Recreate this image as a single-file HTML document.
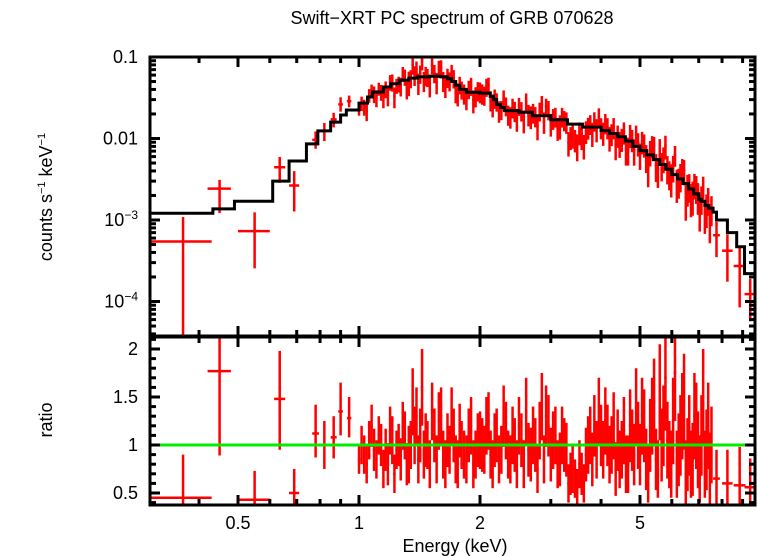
<!DOCTYPE html>
<html><head><meta charset="utf-8"><style>
body{margin:0;background:#fff;}
svg{display:block;font-family:"Liberation Sans",sans-serif;}
</style></head><body>
<svg id="chart" width="758" height="556" viewBox="0 0 758 556" xmlns="http://www.w3.org/2000/svg">
<defs>
<clipPath id="cTop"><rect x="150" y="57" width="605" height="279"/></clipPath>
<clipPath id="cBot"><rect x="150" y="337" width="605" height="168"/></clipPath>
</defs>
<text x="452" y="24" font-size="18" text-anchor="middle">Swift−XRT PC spectrum of GRB 070628</text>
<text transform="translate(52,197) rotate(-90)" font-size="18" text-anchor="middle">counts s<tspan font-size="11" dy="-7">−1</tspan><tspan dy="7"> keV</tspan><tspan font-size="11" dy="-7">−1</tspan></text>
<text transform="translate(52,420) rotate(-90)" font-size="18" text-anchor="middle">ratio</text>
<text x="455" y="552" font-size="18" text-anchor="middle">Energy (keV)</text>
<g id="gTop" clip-path="url(#cTop)"></g>
<g id="gBot" clip-path="url(#cBot)"></g>
<g id="gAxes"></g>
</svg>
<script>
// Model step bins (left edges) and values (counts/s/keV)
const modelEdges=[0.30,0.433,0.49,0.61,0.67,0.74,0.79,0.85,0.90,0.93,1.00,1.05,1.08,1.15,1.20,1.26,1.33,1.40,1.50,1.60,1.66,1.70,1.74,1.78,1.85,2.00,2.12,2.16,2.20,2.25,2.30,2.50,2.70,3.00,3.30,3.60,4.00,4.20,4.40,4.60,4.80,5.00,5.20,5.40,5.60,5.80,6.00,6.20,6.40,6.60,6.80,7.00,7.10,7.25,7.40,7.60,7.75,8.25,8.70,9.10,9.70];
const modelVals=[1.21e-3,1.37e-3,1.70e-3,3.0e-3,5.3e-3,8.6e-3,0.0124,0.0159,0.0194,0.0224,0.0272,0.0323,0.0372,0.0428,0.047,0.052,0.055,0.057,0.058,0.057,0.054,0.050,0.045,0.040,0.037,0.036,0.033,0.030,0.026,0.024,0.022,0.021,0.019,0.017,0.015,0.0138,0.0125,0.0115,0.0105,0.0093,0.008,0.0071,0.0063,0.0055,0.0048,0.0042,0.0036,0.0032,0.0028,0.0024,0.0021,0.0018,0.0017,0.0015,0.0014,0.00125,0.0010,0.0007,0.00047,0.00022];
// Sparse data points: energy, half-width, ratio, ratio error low/high
const sparseE=[0.365,0.45,0.55,0.635,0.69,0.78,0.82,0.865,0.90,0.945,7.75,8.25,8.85,9.4];
const sparseW=[0.065,0.03,0.05,0.02,0.02,0.015,0.015,0.015,0.012,0.012,0.15,0.25,0.3,0.3];
const sparseR=[0.45,1.77,0.43,1.48,0.50,1.12,1.00,1.08,1.35,1.28,0.65,0.60,0.58,0.56];
const sparseLo=[0.45,0.88,0.28,0.53,0.26,0.25,0.25,0.22,0.25,0.2,0.3,0.35,0.4,0.3];
const sparseHi=[0.45,0.5,0.30,0.50,0.25,0.3,0.25,0.22,0.3,0.22,0.3,0.35,0.4,0.3];
// Dense data: energy, ratio, ratio error
const denseE=[1.00,1.03,1.06,1.09,1.12,1.15,1.18,1.21,1.24,1.27,1.30,1.33,1.36,1.39,1.42,1.45,1.48,1.52,1.56,1.60,1.64,1.68,1.72,1.76,1.80,1.85,1.90,1.95,2.00,2.05,2.10,2.15,2.20,2.26,2.32,2.38,2.44,2.50,2.57,2.64,2.71,2.78,2.85,2.92,3.00,3.08,3.16,3.24,3.32,3.40,3.49,3.58,3.67,3.76,3.85,3.95,4.05,4.15,4.25,4.35,4.45,4.56,4.67,4.78,4.89,5.00,5.12,5.24,5.36,5.48,5.60,5.72,5.85,5.98,6.11,6.24,6.37,6.50,6.63,6.76,6.90,7.04,7.18,7.32,7.46];
const denseR=[0.85,0.9,1.05,0.95,1.1,0.75,0.8,1.05,0.95,0.85,1.1,0.9,1.45,1.3,1.1,0.9,1.0,1.35,0.85,1.3,0.8,0.95,1.1,0.8,1.0,0.85,1.2,0.9,1.05,0.95,1.25,0.8,1.1,0.95,1.15,0.85,1.0,1.2,0.8,0.95,1.1,0.75,1.4,1.3,0.9,1.1,0.85,1.0,0.6,0.75,0.55,0.7,0.9,1.1,1.2,1.35,0.95,1.1,1.0,0.75,0.85,1.15,0.8,1.05,1.4,0.9,1.2,0.7,1.3,0.85,1.55,1.2,1.05,0.8,1.75,0.95,1.3,0.7,1.1,0.85,1.2,0.75,1.5,0.95,0.75];
const denseErr=[0.15,0.2,0.2,0.22,0.2,0.2,0.22,0.25,0.2,0.22,0.25,0.3,0.35,0.3,0.28,0.25,0.25,0.3,0.25,0.3,0.25,0.25,0.28,0.25,0.25,0.25,0.3,0.25,0.3,0.25,0.3,0.25,0.28,0.25,0.3,0.25,0.28,0.3,0.25,0.28,0.3,0.25,0.35,0.32,0.28,0.3,0.28,0.28,0.2,0.25,0.2,0.22,0.28,0.3,0.32,0.35,0.3,0.32,0.3,0.28,0.3,0.35,0.3,0.32,0.4,0.32,0.38,0.3,0.4,0.32,0.5,0.42,0.4,0.35,0.5,0.38,0.45,0.35,0.42,0.38,0.45,0.35,0.5,0.42,0.38];
const denseE2=[1.015,1.045,1.075,1.105,1.135,1.165,1.195,1.225,1.255,1.285,1.315,1.345,1.375,1.405,1.435,1.465,1.50,1.54,1.58,1.62,1.66,1.70,1.74,1.78,1.825,1.875,1.925,1.975,2.025,2.075,2.125,2.175,2.23,2.29,2.35,2.41,2.47,2.535,2.605,2.675,2.745,2.815,2.885,2.96,3.04,3.12,3.20,3.28,3.36,3.445,3.535,3.625,3.715,3.805,3.90,4.00,4.10,4.20,4.30,4.40,4.505,4.615,4.725,4.835,4.945,5.06,5.18,5.30,5.42,5.54,5.66,5.785,5.915,6.045,6.175,6.305,6.435,6.565,6.695,6.83,6.97,7.11,7.25,7.39,7.53];
const denseR2=[1.0,0.8,1.2,0.85,1.0,0.95,1.15,0.7,1.0,1.2,0.8,1.0,1.1,0.85,1.6,1.05,0.8,1.1,1.25,0.9,1.05,1.3,0.85,1.15,0.9,1.1,0.8,1.05,1.0,1.2,0.9,1.05,0.85,1.3,0.9,1.1,0.8,1.05,1.35,0.9,1.0,1.15,0.85,1.2,1.05,0.8,1.1,0.95,0.7,0.65,0.8,0.6,1.0,0.85,0.95,1.1,1.25,0.9,1.2,1.05,0.95,0.8,1.2,0.9,1.1,1.3,0.85,1.1,1.45,0.75,1.0,1.7,0.9,1.25,0.8,1.1,1.45,0.9,0.8,1.3,0.95,1.1,0.8,1.2,1.0];
const denseErr2=[0.2,0.2,0.22,0.2,0.22,0.22,0.25,0.2,0.22,0.25,0.22,0.25,0.3,0.25,0.4,0.28,0.25,0.28,0.3,0.25,0.28,0.3,0.25,0.28,0.25,0.28,0.25,0.28,0.28,0.3,0.25,0.28,0.25,0.32,0.25,0.3,0.25,0.28,0.35,0.28,0.28,0.3,0.25,0.32,0.3,0.25,0.3,0.28,0.22,0.2,0.25,0.2,0.3,0.28,0.3,0.32,0.35,0.3,0.35,0.32,0.3,0.3,0.38,0.32,0.35,0.4,0.32,0.38,0.45,0.3,0.38,0.55,0.35,0.45,0.35,0.42,0.5,0.38,0.35,0.45,0.4,0.42,0.35,0.45,0.4];
const xTickMajor=[0.5,1,2,5];
const xTickMinor=[0.3,0.4,0.6,0.7,0.8,0.9,3,4,6,7,8,9];
const yTopMajor=[0.1,0.01,0.001,0.0001];
const yTopLabels=["0.1","0.01","10|−3","10|−4"];
const yBotMajor=[0.5,1,1.5,2];
const yBotLabels=["0.5","1","1.5","2"];

const NS="http://www.w3.org/2000/svg";
const X0=150,X1=755,YT0=57,YT1=336,YB0=337,YB1=505;
function xs(e){return 359+402*Math.log10(e);}
function ysT(c){return 57-81.5*(Math.log10(c)+1);}
function ysB(r){return 445-96*(r-1);}
function modelAt(e){let v=modelVals[0];for(let i=0;i<modelVals.length;i++){if(e>=modelEdges[i])v=modelVals[i];}return v;}
function line(g,x1,y1,x2,y2,col,w,name){const l=document.createElementNS(NS,'line');l.setAttribute('x1',x1);l.setAttribute('y1',y1);l.setAttribute('x2',x2);l.setAttribute('y2',y2);l.setAttribute('stroke',col);l.setAttribute('stroke-width',w);


g.appendChild(l);return l;}
const gT=document.getElementById('gTop'),gB=document.getElementById('gBot'),gA=document.getElementById('gAxes');
const RED='#ff0000';
function drawPoint(e,w,r,lo,hi){
  const m=modelAt(e);
  const xa=xs(e-w),xb=xs(e+w),xc=xs(e);
  const c=r*m;const cl=Math.max((r-lo)*m,1e-6),ch=(r+hi)*m;
  line(gT,xa,ysT(c),xb,ysT(c),RED,2.5,'data-point-xerr');
  line(gT,xc,ysT(cl),xc,ysT(ch),RED,2.5,'data-point-yerr');
  line(gB,xa,ysB(r),xb,ysB(r),RED,2.5,'ratio-point-xerr');
  line(gB,xc,ysB(r-lo),xc,ysB(r+hi),RED,2.5,'ratio-point-yerr');
}
for(let i=0;i<sparseE.length;i++)drawPoint(sparseE[i],sparseW[i],sparseR[i],sparseLo[i],sparseHi[i]);
for(let i=0;i<denseE.length;i++){drawPoint(denseE[i],denseE[i]*0.007,denseR[i],denseErr[i],denseErr[i]);}
for(let i=0;i<denseE2.length;i++){drawPoint(denseE2[i],denseE2[i]*0.007,denseR2[i],denseErr2[i],denseErr2[i]);}
let d='';for(let i=0;i<modelVals.length;i++){const y=ysT(modelVals[i]);d+=(i?'L':'M')+xs(modelEdges[i])+','+y+'L'+xs(modelEdges[i+1])+','+y;}
const p=document.createElementNS(NS,'path');p.setAttribute('d',d);p.setAttribute('fill','none');p.setAttribute('stroke','#000');p.setAttribute('stroke-width',3);


gT.appendChild(p);
line(gB,X0,ysB(1),X1,ysB(1),'#00ee00',3,'unity-line');
function frame(y0,y1,name){const r=document.createElementNS(NS,'rect');r.setAttribute('x',X0);r.setAttribute('y',y0);r.setAttribute('width',X1-X0);r.setAttribute('height',y1-y0);r.setAttribute('fill','none');r.setAttribute('stroke','#000');r.setAttribute('stroke-width',3);


gA.appendChild(r);}
frame(YT0,YT1,'top-frame');frame(YB0,YB1,'bottom-frame');
function text(x,y,s,anchor,name){const t=document.createElementNS(NS,'text');t.setAttribute('x',x);t.setAttribute('y',y);t.setAttribute('font-size',18);t.setAttribute('text-anchor',anchor);


if(s.indexOf('|')>=0){const [a,b]=s.split('|');t.textContent=a;const ts=document.createElementNS(NS,'tspan');ts.setAttribute('font-size',12);ts.setAttribute('dy',-7);ts.textContent=b;t.appendChild(ts);}else t.textContent=s;
gA.appendChild(t);}
[[YT0,YT1],[YB0,YB1]].forEach(([a,b])=>{
  xTickMajor.forEach(v=>{const x=xs(v);line(gA,x,a,x,a+10,'#000',3,'x-tick-major');line(gA,x,b,x,b-10,'#000',3,'x-tick-major');});
  xTickMinor.forEach(v=>{const x=xs(v);if(x<X0+1)return;line(gA,x,a,x,a+6,'#000',3,'x-tick-minor');line(gA,x,b,x,b-6,'#000',3,'x-tick-minor');});
});
xTickMajor.forEach(v=>text(xs(v),529,String(v),'middle','x-tick-label'));
yTopMajor.forEach((v,i)=>{const y=ysT(v);line(gA,X0,y,X0+10,y,'#000',3,'y-tick-major');line(gA,X1,y,X1-10,y,'#000',3,'y-tick-major');text(X0-12,y+6,yTopLabels[i],'end','y-tick-label');
  for(let k=2;k<10;k++){const yy=ysT(v*k);if(yy<YT0||yy>YT1)continue;line(gA,X0,yy,X0+6,yy,'#000',3,'y-tick-minor');line(gA,X1,yy,X1-6,yy,'#000',3,'y-tick-minor');}});
for(let k=4;k<10;k++){const yy=ysT(1e-5*k);if(yy<YT1){line(gA,X0,yy,X0+6,yy,'#000',3,'y-tick-minor');line(gA,X1,yy,X1-6,yy,'#000',3,'y-tick-minor');}}
yBotMajor.forEach((v,i)=>{const y=ysB(v);line(gA,X0,y,X0+10,y,'#000',3,'ratio-tick-major');line(gA,X1,y,X1-10,y,'#000',3,'ratio-tick-major');text(X0-12,y+6,yBotLabels[i],'end','ratio-tick-label');});
for(let v=0.4;v<2.15;v+=0.1){const y=ysB(v);if(y<YB0+2||y>YB1-2)continue;line(gA,X0,y,X0+6,y,'#000',3,'ratio-tick-minor');line(gA,X1,y,X1-6,y,'#000',3,'ratio-tick-minor');}
</script>
</body></html>
